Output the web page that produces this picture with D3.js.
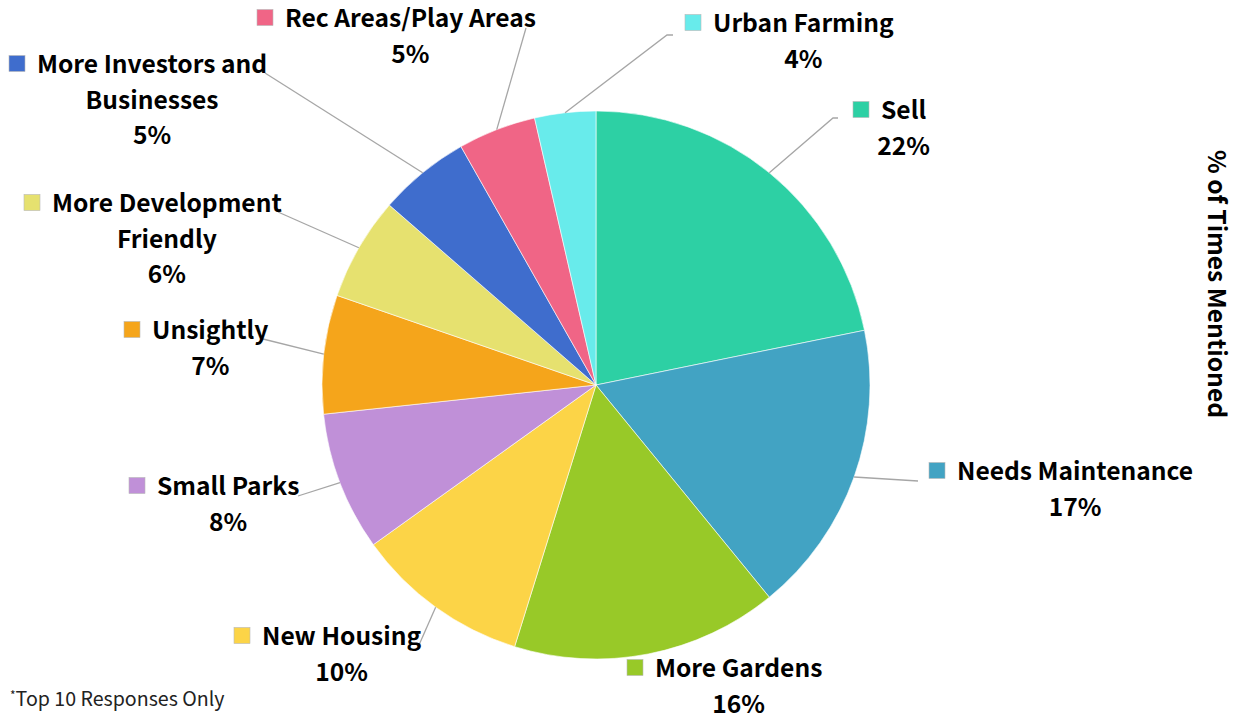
<!DOCTYPE html>
<html>
<head>
<meta charset="utf-8">
<script src="https://cdn.jsdelivr.net/npm/d3@7"></script>
<style>
  html, body { margin: 0; padding: 0; background: #ffffff; }
  svg { display: block; }
  text { font-family: "Noto Sans CJK SC", "Source Sans Pro", "Noto Sans", sans-serif; }
</style>
</head>
<body>
<svg id="chart" width="1236" height="718"></svg>
<script>
// ---- data ----
const categories = ["Sell", "Needs Maintenance", "More Gardens", "New Housing", "Small Parks",
  "Unsightly", "More Development Friendly", "More Investors and Businesses",
  "Rec Areas/Play Areas", "Urban Farming"];
const values = [21.8, 17.3, 15.7, 10.3, 8.2, 7.0, 6.1, 5.4, 4.6, 3.6];
const axisTitle = "% of Times Mentioned";
const footnote = "Top 10 Responses Only";

// ---- styles / layout ----
const colors = ["#2dd0a4", "#42a3c3", "#98c928", "#fcd447", "#c090d8",
  "#f5a51b", "#e6e16f", "#3f6dcd", "#f06586", "#68ebeb"];
const labelLines = [["Sell"], ["Needs Maintenance"], ["More Gardens"], ["New Housing"], ["Small Parks"],
  ["Unsightly"], ["More Development", "Friendly"], ["More Investors and", "Businesses"],
  ["Rec Areas/Play Areas"], ["Urban Farming"]];
// text left x, first baseline y
const labelPos = [[881, 119], [957, 480], [655, 677], [262, 645], [157, 495],
  [152, 339], [52, 212], [37, 73], [285, 27], [713, 32]];
// connector tail points (after leaving the pie edge); null = no connector
const connTail = [
  [[833, 118], [838, 118]],
  [[918, 481]],
  null,
  [[419, 645]],
  [[298, 496]],
  [[263, 339]],
  [[278, 212]],
  [[265, 73]],
  [[526, 28]],
  [[667, 35], [673, 35]]
];

const cx = 596, cy = 385, R = 274;
const fontSize = 24.6, lineH = 35.5, fw = 700;

const svg = d3.select("#chart");

const pie = d3.pie().sort(null).value(d => d).startAngle(0).endAngle(2 * Math.PI);
const arcs = pie(values);
const arc = d3.arc().innerRadius(0).outerRadius(R);
const edge = d3.arc().innerRadius(R).outerRadius(R);

const g = svg.append("g").attr("transform", `translate(${cx},${cy})`);
g.selectAll("path.slice").data(arcs).join("path")
  .attr("class", "slice")
  .attr("d", arc)
  .attr("fill", (d, i) => colors[i])
  .attr("stroke", "#ffffff")
  .attr("stroke-width", 0.6);

// connectors
const line = d3.line();
arcs.forEach((d, i) => {
  if (!connTail[i]) return;
  const c = edge.centroid(d);
  const pts = [[cx + c[0], cy + c[1]], ...connTail[i]];
  svg.append("path")
    .attr("d", line(pts))
    .attr("fill", "none")
    .attr("stroke", "#a6a6a6")
    .attr("stroke-width", 1.3);
});

// labels
const lab = svg.append("g");
categories.forEach((cat, i) => {
  const [tx, by] = labelPos[i];
  const lines = labelLines[i];
  const probe = lab.append("text").attr("x", tx).attr("y", by)
    .attr("font-size", fontSize).attr("font-weight", fw).text(lines[0]);
  const w = probe.node().getComputedTextLength();
  probe.remove();
  const mid = tx + w / 2;
  lab.append("rect")
    .attr("x", tx - 28).attr("y", by - 17.5)
    .attr("width", 16).attr("height", 16)
    .attr("fill", colors[i])
    .attr("stroke", "#b8b8b8").attr("stroke-width", 0.6);
  lines.forEach((ln, k) => {
    lab.append("text")
      .attr("x", k === 0 ? tx : mid).attr("y", by + k * lineH)
      .attr("text-anchor", k === 0 ? "start" : "middle")
      .attr("font-size", fontSize).attr("font-weight", fw)
      .attr("fill", "#000").text(ln);
  });
  lab.append("text")
    .attr("x", mid).attr("y", by + lines.length * lineH)
    .attr("text-anchor", "middle")
    .attr("font-size", fontSize).attr("font-weight", fw)
    .attr("fill", "#000").text(Math.round(values[i]) + "%");
});

// rotated axis title
svg.append("text")
  .attr("transform", `translate(1208,284) rotate(90)`)
  .attr("text-anchor", "middle")
  .attr("font-size", fontSize).attr("font-weight", fw)
  .attr("fill", "#000").text(axisTitle);

// footnote
const fn = svg.append("text").attr("x", 10).attr("y", 706)
  .attr("font-size", 19.6).attr("font-weight", 400).attr("fill", "#222");
fn.append("tspan").attr("font-size", 12).attr("dy", -6).text("*");
fn.append("tspan").attr("dy", 6).text(footnote);
</script>
</body>
</html>
